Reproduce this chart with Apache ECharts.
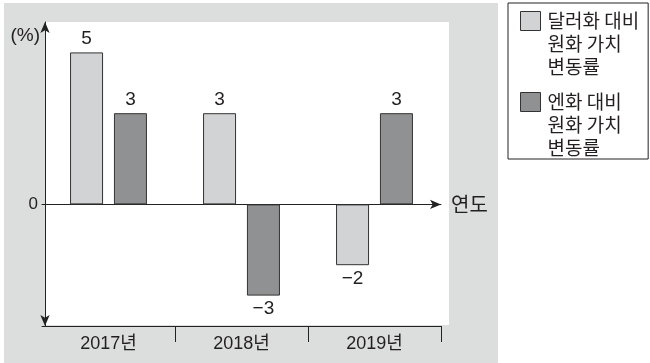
<!DOCTYPE html>
<html>
<head>
<meta charset="utf-8">
<script src="https://cdn.jsdelivr.net/npm/echarts@6/dist/echarts.min.js"></script>
<style>
  html, body { margin: 0; padding: 0; background: #fff; }
  #chart { width: 650px; height: 363px; }
</style>
</head>
<body>
<div id="chart"></div>
<script>
const years = ['2017년', '2018년', '2019년']
const dollarRate = [5, 3, -2]
const yenRate = [3, -3, 3]
const seriesNames = ['달러화 대비\n원화 가치\n변동률', '엔화 대비\n원화 가치\n변동률']

const font = "'Liberation Sans', 'Noto Sans CJK KR', sans-serif"
const krFont = "'Noto Sans CJK KR', sans-serif"
const ink = '#231f20'

const chart = echarts.init(document.getElementById('chart'))

const barLabel = {
  show: true,
  position: 'outside',
  distance: 4,
  fontSize: 19,
  fontFamily: font,
  color: ink,
  formatter: p => (p.value < 0 ? '\u2212' + (-p.value) : String(p.value))
}

const makeSeries = (name, values, color) => ({
  name: name,
  type: 'bar',
  xAxisIndex: 0,
  barWidth: 33,
  barGap: '33%',
  itemStyle: { color: color, borderColor: '#333', borderWidth: 1 },
  label: barLabel,
  emphasis: { disabled: true },
  data: values
})

chart.setOption({
  animation: false,
  textStyle: { fontFamily: font },
  graphic: [
    { type: 'rect', z: -10, silent: true, shape: { x: 4, y: 3, width: 494, height: 360 }, style: { fill: '#dcdddd' } },
    { type: 'rect', z: -9, silent: true, shape: { x: 45, y: 22, width: 404, height: 303 }, style: { fill: '#fff' } }
  ],
  grid: { left: 42, right: 209, top: 22, bottom: 37 },
  legend: {
    orient: 'vertical',
    left: 508,
    top: 3,
    padding: [6, 9, -1, 12],
    itemGap: 11,
    itemWidth: 22,
    itemHeight: 69,
    // square on the first text line, the rest of the item box left empty
    icon: 'path://M0,0M22,0M0,2L20,2L20,21L0,21ZM0,69',
    borderColor: '#222',
    borderWidth: 1,
    itemStyle: { borderColor: '#333', borderWidth: 1 },
    textStyle: { fontSize: 19, lineHeight: 23, color: ink, fontFamily: krFont },
    data: seriesNames
  },
  xAxis: [
    {
      type: 'category',
      data: years,
      position: 'bottom',
      axisLine: { onZero: false, lineStyle: { color: '#222', width: 1 } },
      axisTick: { show: true, length: 16, lineStyle: { color: '#222' }, interval: (i) => i !== 0 },
      axisLabel: { margin: 9, fontSize: 18, color: ink, fontFamily: font }
    },
    {
      type: 'category',
      data: years,
      position: 'bottom',
      name: '연도',
      nameLocation: 'end',
      nameGap: 10,
      nameTextStyle: { fontSize: 20, color: ink, fontFamily: krFont },
      axisLine: { onZero: true, onZeroAxisIndex: 0, symbol: ['none', 'arrow'], symbolSize: [7, 11], lineStyle: { color: '#222', width: 1 } },
      axisTick: { show: false },
      axisLabel: { show: false }
    }
  ],
  yAxis: {
    type: 'value',
    min: -4,
    max: 6,
    interval: 2,
    offset: -3,
    name: '(%)',
    nameLocation: 'end',
    nameGap: -4,
    nameTextStyle: { fontSize: 19, color: ink, fontFamily: font, align: 'right', verticalAlign: 'top', padding: [0, 5, 0, 0] },
    axisLine: { show: true, symbol: ['arrow', 'arrow'], symbolSize: [7, 11], lineStyle: { color: '#222', width: 1 } },
    axisTick: { show: false },
    splitLine: { show: false },
    axisLabel: { margin: 7, fontSize: 17, color: ink, fontFamily: font, formatter: v => (v === 0 ? '0' : '') }
  },
  series: [
    makeSeries(seriesNames[0], dollarRate, '#d2d3d4'),
    makeSeries(seriesNames[1], yenRate, '#909192')
  ]
})
</script>
</body>
</html>
